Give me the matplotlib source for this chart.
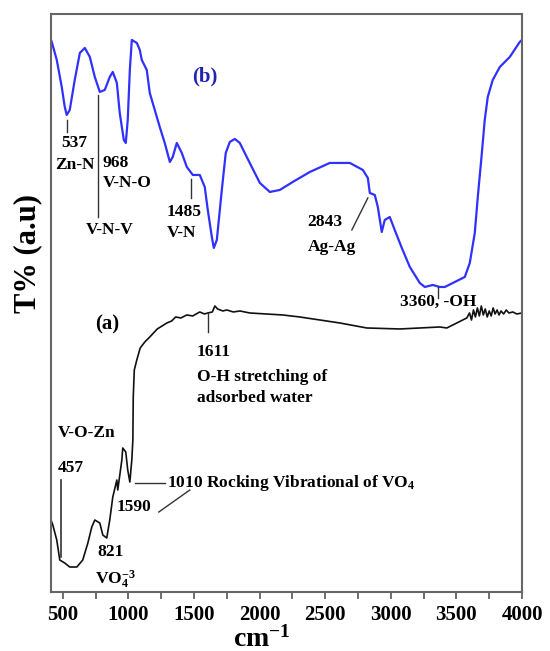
import numpy as np
import matplotlib.pyplot as plt

plt.rcParams['font.family'] = ['Liberation Serif', 'DejaVu Serif']
plt.rcParams['mathtext.fontset'] = 'custom'
plt.rcParams['mathtext.rm'] = 'Liberation Serif:bold'
plt.rcParams['mathtext.it'] = 'Liberation Serif:bold'
plt.rcParams['mathtext.bf'] = 'Liberation Serif:bold'

# spectrum (b), blue
wn_b = [410, 416, 454, 492, 515, 530, 553, 591, 630, 668, 706, 744, 782, 820, 858,
        881, 912, 934, 965, 980, 995, 1011, 1026, 1064, 1087, 1102, 1140, 1163, 1201,
        1239, 1277, 1316, 1338, 1369, 1407, 1445, 1491, 1544, 1582, 1605, 1636, 1651,
        1674, 1712, 1742, 1773, 1811, 1849, 1925, 2002, 2078, 2154, 2253, 2383, 2535,
        2688, 2787, 2825, 2840, 2878, 2901, 2931, 2954, 2992, 3030, 3084, 3145, 3221,
        3259, 3320, 3373, 3412, 3488, 3564, 3602, 3640, 3663, 3694, 3716, 3739, 3777,
        3831, 3907, 3983, 4000]
t_b = [552, 550, 532, 505, 485, 477, 482, 512, 539, 544, 535, 515, 500, 502, 515,
       520, 509, 479, 452, 449, 472, 522, 552, 549, 542, 532, 522, 499, 482,
       465, 449, 430, 435, 449, 439, 425, 417, 417, 405, 382, 355, 344,
       352, 402, 439, 450, 453, 449, 429, 409, 400, 402, 410, 420, 429,
       429, 422, 414, 399, 397, 385, 360, 372, 375, 362, 344, 325, 309,
       305, 307, 305, 305, 310, 315, 329, 359, 395, 439, 472, 495, 512,
       525, 535, 550, 552]

# spectrum (a), black
wn_a = [410, 424, 454, 477, 515, 553, 607, 652, 691, 721, 744, 782, 805, 835, 858,
        881, 912, 919, 950, 957, 980, 995, 1011, 1026, 1034, 1037, 1045, 1064, 1090,
        1125, 1163, 1220, 1293, 1330, 1360, 1400, 1445, 1490, 1544, 1580, 1605, 1640,
        1659, 1680, 1720, 1750, 1800, 1850, 1925, 2050, 2177, 2306, 2459, 2611, 2817,
        3069, 3373, 3427, 3503, 3579, 3600, 3615, 3630, 3645, 3660, 3675, 3690, 3705,
        3720, 3735, 3750, 3765, 3780, 3795, 3810, 3825, 3840, 3860, 3880, 3900, 3930,
        3960, 4000]
t_a = [72, 67, 52, 32, 29, 25, 25, 32, 49, 65, 72, 69, 57, 54, 72,
       95, 112, 102, 132, 144, 140, 122, 110, 132, 152, 195, 222, 232, 244,
       250, 255, 263, 269, 271, 275, 274, 277, 276, 280, 278, 279, 280,
       286, 283, 281, 282, 280, 281, 279, 278, 277, 275, 272, 269, 264,
       263, 265, 264, 269, 274, 279, 272, 282, 275, 284, 276, 286, 277,
       283, 275, 281, 276, 284, 278, 282, 277, 281, 278, 282, 279, 280,
       278, 279]

fig = plt.figure(figsize=(5.5, 6.51), dpi=100)
ax = fig.add_axes([0.0927, 0.0906, 0.8564, 0.888])

ax.plot(wn_b, t_b, color='#3030ff', linewidth=1.6)
ax.plot(wn_a, t_a, color='#111111', linewidth=1.2)

ax.set_xlim(410, 4000)
ax.set_ylim(0, 578)
ax.set_xticks(np.arange(500, 4001, 500))
ax.set_xticks(np.arange(750, 4000, 500), minor=True)
ax.set_yticks([])
for lab in ax.get_xticklabels():
    lab.set_fontweight('bold')
ax.tick_params(axis='x', which='both', direction='out', length=5, width=1.2,
               colors='#555555', labelcolor='black', labelsize=15, pad=4)
for s in ax.spines.values():
    s.set_color('#666666')
    s.set_linewidth(1.5)

fig.text(0.475, 0.007, 'cm$^{-1}$', fontsize=20, fontweight='bold', ha='center', va='baseline')
fig.text(0.051, 0.611, 'T% (a.u)', fontsize=22, fontweight='bold', rotation=90,
         ha='center', va='center')

fs = 12.5
lc = '#333333'
kw = dict(fontsize=fs, fontweight='bold')

# labels on (b)
ax.text(1582, 515, '(b)', color='#2323b0', fontsize=15, fontweight='bold', ha='center', va='center')
ax.plot([530, 530], [472, 460], color=lc, lw=1)
ax.text(591, 449, '537', ha='center', va='center', **kw)
ax.text(591, 427, 'Zn-N', ha='center', va='center', **kw)
ax.plot([767, 767], [497, 375], color=lc, lw=1)
ax.text(858, 362, 'V-N-V', ha='center', va='center', **kw)
ax.text(805, 429, '968', ha='left', va='center', **kw)
ax.text(805, 409, 'V-N-O', ha='left', va='center', **kw)
ax.plot([1476, 1476], [413, 394], color=lc, lw=1)
ax.text(1293, 380, '1485', ha='left', va='center', **kw)
ax.text(1293, 359, 'V-N', ha='left', va='center', **kw)
ax.plot([2703, 2825], [362, 394], color=lc, lw=1)
ax.text(2367, 370, '2843', ha='left', va='center', **kw)
ax.text(2367, 345, 'Ag-Ag', ha='left', va='center', **kw)
ax.plot([3358, 3358], [305, 294], color=lc, lw=1)
ax.text(3069, 290, '3360, -OH', ha='left', va='center', **kw)

# labels on (a)
ax.text(835, 267, '(a)', color='black', fontsize=15, fontweight='bold', ha='center', va='center')
ax.plot([1605, 1605], [279, 260], color=lc, lw=1)
ax.text(1521, 240, '1611', ha='left', va='center', **kw)
ax.text(1521, 215, 'O-H stretching of', ha='left', va='center', **kw)
ax.text(1521, 194, 'adsorbed water', ha='left', va='center', **kw)
ax.text(462, 159, 'V-O-Zn', ha='left', va='center', **kw)
ax.text(462, 124, '457', ha='left', va='center', **kw)
ax.plot([490, 490], [112, 35], color=lc, lw=1.2)
ax.text(866, 40, '821', ha='center', va='center', **kw)
ax.text(744, 12, 'VO$_4^{-3}$', ha='left', va='center', **kw)
ax.text(912, 85, '1590', ha='left', va='center', **kw)
ax.plot([1232, 1468], [80, 102], color=lc, lw=1)
ax.plot([1049, 1277], [109, 109], color=lc, lw=1)
ax.text(1293, 109, '1010 Rocking Vibrational of VO$_4$', ha='left', va='center', **kw)

fig.savefig('out.png', dpi=100)
